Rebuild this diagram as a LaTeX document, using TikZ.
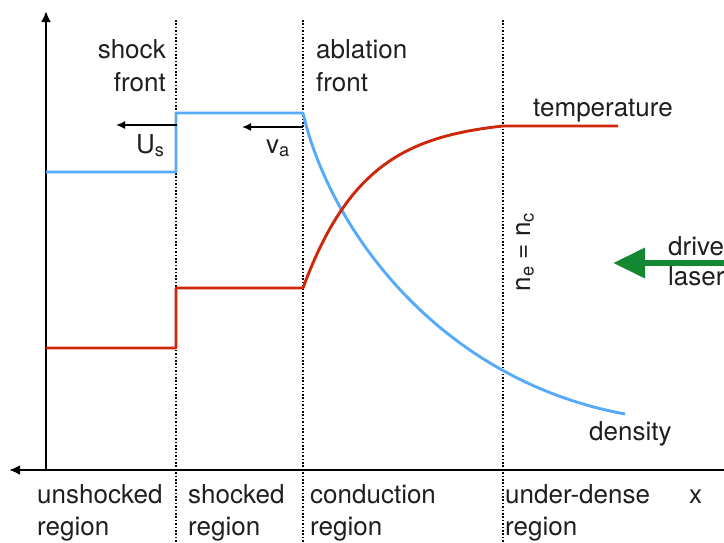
\documentclass[tikz,border=0pt]{standalone}
\usepackage{fontspec}
\setmainfont{TeX Gyre Heros}
\usetikzlibrary{arrows.meta}
\definecolor{dens}{RGB}{85,170,250}
\definecolor{temp}{RGB}{205,40,10}
\definecolor{laser}{RGB}{20,135,50}
\tikzset{
  lbl/.style={font=\fontsize{26}{30}\selectfont, inner sep=0pt, text=black!88},
  axis/.style={line width=2.8pt, -{Latex[length=11pt,width=10pt]}},
  divider/.style={line width=1.2pt, dash pattern=on 1.6pt off 1.8pt},
  vel/.style={line width=1.6pt, -{Latex[length=9pt,width=8pt]}},
  denscurve/.style={dens, line width=2.9pt, line join=round},
  tempcurve/.style={temp, line width=2.9pt, line join=round},
}
\begin{document}
\begin{tikzpicture}[x=1pt,y=-1pt]
\useasboundingbox (0,0) rectangle (724,542);
% coordinates
\coordinate (origin) at (46,470);
\coordinate (ytip) at (46,11);
\coordinate (xright) at (724,470);
\coordinate (xtip) at (9,470);
% dividers
\foreach \xx/\nm in {176/d1,303/d2,503/d3}{
  \coordinate (\nm t) at (\xx,20);
  \coordinate (\nm b) at (\xx,542);
  \draw[divider] (\nm t) -- (\nm b);
}
% axes
\draw[axis] (origin) -- (ytip);
\draw[axis] (xright) -- (xtip);
% density
\draw[denscurve] (46,172) -- (176,172) -- (176,113) -- (303,113)
  .. controls (330,230) and (440,380) .. (625,414);
% temperature
\draw[tempcurve] (46,348) -- (176,348) -- (176,288) -- (303,288)
  -- plot[domain=303:503, samples=80] (\x, {126+162*(exp(-(\x-303)/62)-0.0397)/0.9603}) -- (618,126);
% velocity arrows
\coordinate (us0) at (177,125); \coordinate (us1) at (116,125);
\coordinate (va0) at (303,127); \coordinate (va1) at (242,127);
\draw[vel] (us0) -- (us1);
\draw[vel] (va0) -- (va1);
\node[lbl, anchor=base west] (us) at (136,153) {U\textsubscript{s}};
\node[lbl, anchor=base west] (va) at (266,153) {v\textsubscript{a}};
% laser
\coordinate (l0) at (724,263); \coordinate (l1) at (613,263);
\draw[laser, line width=6.5pt, -{Triangle[length=32pt,width=29pt]}] (l0) -- (l1);
\node[lbl, anchor=base west] (drive) at (668,255) {drive};
\node[lbl, anchor=base west] (laserl) at (668,285) {laser};
% labels
\node[lbl, anchor=base east] (shock) at (166,58) {shock};
\node[lbl, anchor=base east] (sfront) at (166,91) {front};
\node[lbl, anchor=base west] (abl) at (316,58) {ablation};
\node[lbl, anchor=base west] (afront) at (316,91) {front};
\node[lbl, anchor=base west] (templ) at (533,116) {temperature};
\node[lbl, anchor=base west] (densl) at (589,440) {density};
\node[lbl, anchor=base, rotate=90] (crit) at (530,252) {n\textsubscript{e} = n\textsubscript{c}};
\node[lbl, anchor=base west] (xl) at (689,503) {x};
\node[lbl, anchor=base west] (r1a) at (37,503) {unshocked};
\node[lbl, anchor=base west] (r1b) at (37,535) {region};
\node[lbl, anchor=base west] (r2a) at (188,503) {shocked};
\node[lbl, anchor=base west] (r2b) at (188,535) {region};
\node[lbl, anchor=base west] (r3a) at (310,503) {conduction};
\node[lbl, anchor=base west] (r3b) at (310,535) {region};
\node[lbl, anchor=base west] (r4a) at (505,503) {under-dense};
\node[lbl, anchor=base west] (r4b) at (505,535) {region};
\end{tikzpicture}
\end{document}
